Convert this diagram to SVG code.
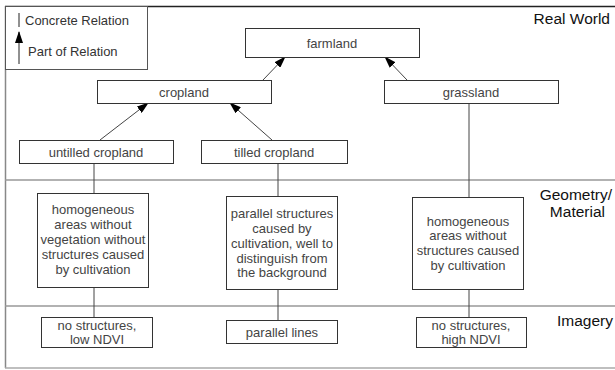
<svg xmlns="http://www.w3.org/2000/svg" width="615" height="370" viewBox="0 0 615 370">
<defs>
<style>
.box{fill:#fff;stroke:#333;stroke-width:1}
.t{font-family:"Liberation Sans",Arial,sans-serif;font-size:13px;fill:#444;text-anchor:middle}
.lg{font-family:"Liberation Sans",Arial,sans-serif;font-size:13px;fill:#333}
.lab{font-family:"Liberation Sans",Arial,sans-serif;font-size:15.5px;fill:#111}
.sep{stroke:#999;stroke-width:1.5}
.c{stroke:#444;stroke-width:1;fill:none}
.a{stroke:#444;stroke-width:1;fill:none;marker-end:url(#ah)}
</style>
<marker id="ah" markerWidth="12" markerHeight="8" refX="11" refY="4" orient="auto" markerUnits="userSpaceOnUse">
<path d="M0,0 L12,4 L0,8 z" fill="#000"/>
</marker>
</defs>
<rect width="615" height="370" fill="#fff"/>
<g id="frame">
<line x1="5" y1="6.5" x2="615" y2="6.5" stroke="#222" stroke-width="1.5"/>
<line x1="5.5" y1="6" x2="5.5" y2="368" stroke="#888" stroke-width="1.5"/>
<line x1="5" y1="368" x2="615" y2="368" stroke="#aaa" stroke-width="1.5"/>
<line class="sep" x1="5" y1="180" x2="615" y2="180"/>
<line class="sep" x1="5" y1="306" x2="615" y2="306"/>
</g>
<g id="legend">
<rect x="5.5" y="6.5" width="142" height="63" fill="#fff" stroke="#555" stroke-width="1"/>
<line x1="19" y1="13" x2="19" y2="27" stroke="#222" stroke-width="1"/>
<text class="lg" x="25" y="25">Concrete Relation</text>
<line x1="19" y1="64" x2="19" y2="32" stroke="#222" stroke-width="1" marker-end="url(#ah)"/>
<text class="lg" x="28" y="56">Part of Relation</text>
</g>
<g id="labels">
<text class="lab" x="610" y="24" text-anchor="end">Real World</text>
<text class="lab" x="612" y="200" text-anchor="end">Geometry/</text>
<text class="lab" x="605" y="217" text-anchor="end">Material</text>
<text class="lab" x="613" y="326" text-anchor="end">Imagery</text>
</g>
<g id="connectors">
<line class="a" x1="263" y1="80" x2="285" y2="57"/>
<line class="a" x1="407" y1="80" x2="385" y2="57"/>
<line class="a" x1="100" y1="140" x2="148" y2="103"/>
<line class="a" x1="272" y1="140" x2="230" y2="103"/>
<line class="c" x1="94" y1="163" x2="94" y2="193"/>
<line class="c" x1="94" y1="287" x2="94" y2="317"/>
<line class="c" x1="278" y1="163" x2="278" y2="196"/>
<line class="c" x1="278" y1="289" x2="278" y2="320"/>
<line class="c" x1="469" y1="103" x2="469" y2="197"/>
<line class="c" x1="469" y1="289" x2="469" y2="317"/>
</g>
<g id="farmland">
<rect class="box" x="245.5" y="28.5" width="174" height="29"/>
<text class="t" x="332" y="47.5">farmland</text>
</g>
<g id="cropland">
<rect class="box" x="97.5" y="80.5" width="174" height="23"/>
<text class="t" x="184" y="96.5">cropland</text>
</g>
<g id="grassland">
<rect class="box" x="384.5" y="80.5" width="174" height="23"/>
<text class="t" x="471" y="96.5">grassland</text>
</g>
<g id="untilled">
<rect class="box" x="19.5" y="140.5" width="154" height="23"/>
<text class="t" x="96" y="156.5">untilled cropland</text>
</g>
<g id="tilled">
<rect class="box" x="201.5" y="140.5" width="146" height="23"/>
<text class="t" x="274" y="156.5">tilled cropland</text>
</g>
<g id="geo1">
<rect class="box" x="37.5" y="193.5" width="111" height="94"/>
<text class="t" x="93" y="213.5">homogeneous</text>
<text class="t" x="93" y="228.5">areas without</text>
<text class="t" x="93" y="243.5">vegetation without</text>
<text class="t" x="93" y="258.5">structures caused</text>
<text class="t" x="93" y="273.5">by cultivation</text>
</g>
<g id="geo2">
<rect class="box" x="226.5" y="196.5" width="111" height="93"/>
<text class="t" x="282" y="217.5">parallel structures</text>
<text class="t" x="282" y="232.5">caused by</text>
<text class="t" x="282" y="247.5">cultivation, well to</text>
<text class="t" x="282" y="262.5">distinguish from</text>
<text class="t" x="282" y="276.5">the background</text>
</g>
<g id="geo3">
<rect class="box" x="412.5" y="197.5" width="111" height="92"/>
<text class="t" x="468" y="225.5">homogeneous</text>
<text class="t" x="468" y="239.5">areas without</text>
<text class="t" x="468" y="254.5">structures caused</text>
<text class="t" x="468" y="269.5">by cultivation</text>
</g>
<g id="img1">
<rect class="box" x="41.5" y="317.5" width="111" height="30"/>
<text class="t" x="97" y="330">no structures,</text>
<text class="t" x="97" y="344">low NDVI</text>
</g>
<g id="img2">
<rect class="box" x="226.5" y="320.5" width="111" height="23"/>
<text class="t" x="282" y="336.5">parallel lines</text>
</g>
<g id="img3">
<rect class="box" x="416.5" y="317.5" width="110" height="30"/>
<text class="t" x="471" y="330">no structures,</text>
<text class="t" x="471" y="344">high NDVI</text>
</g>
</svg>
